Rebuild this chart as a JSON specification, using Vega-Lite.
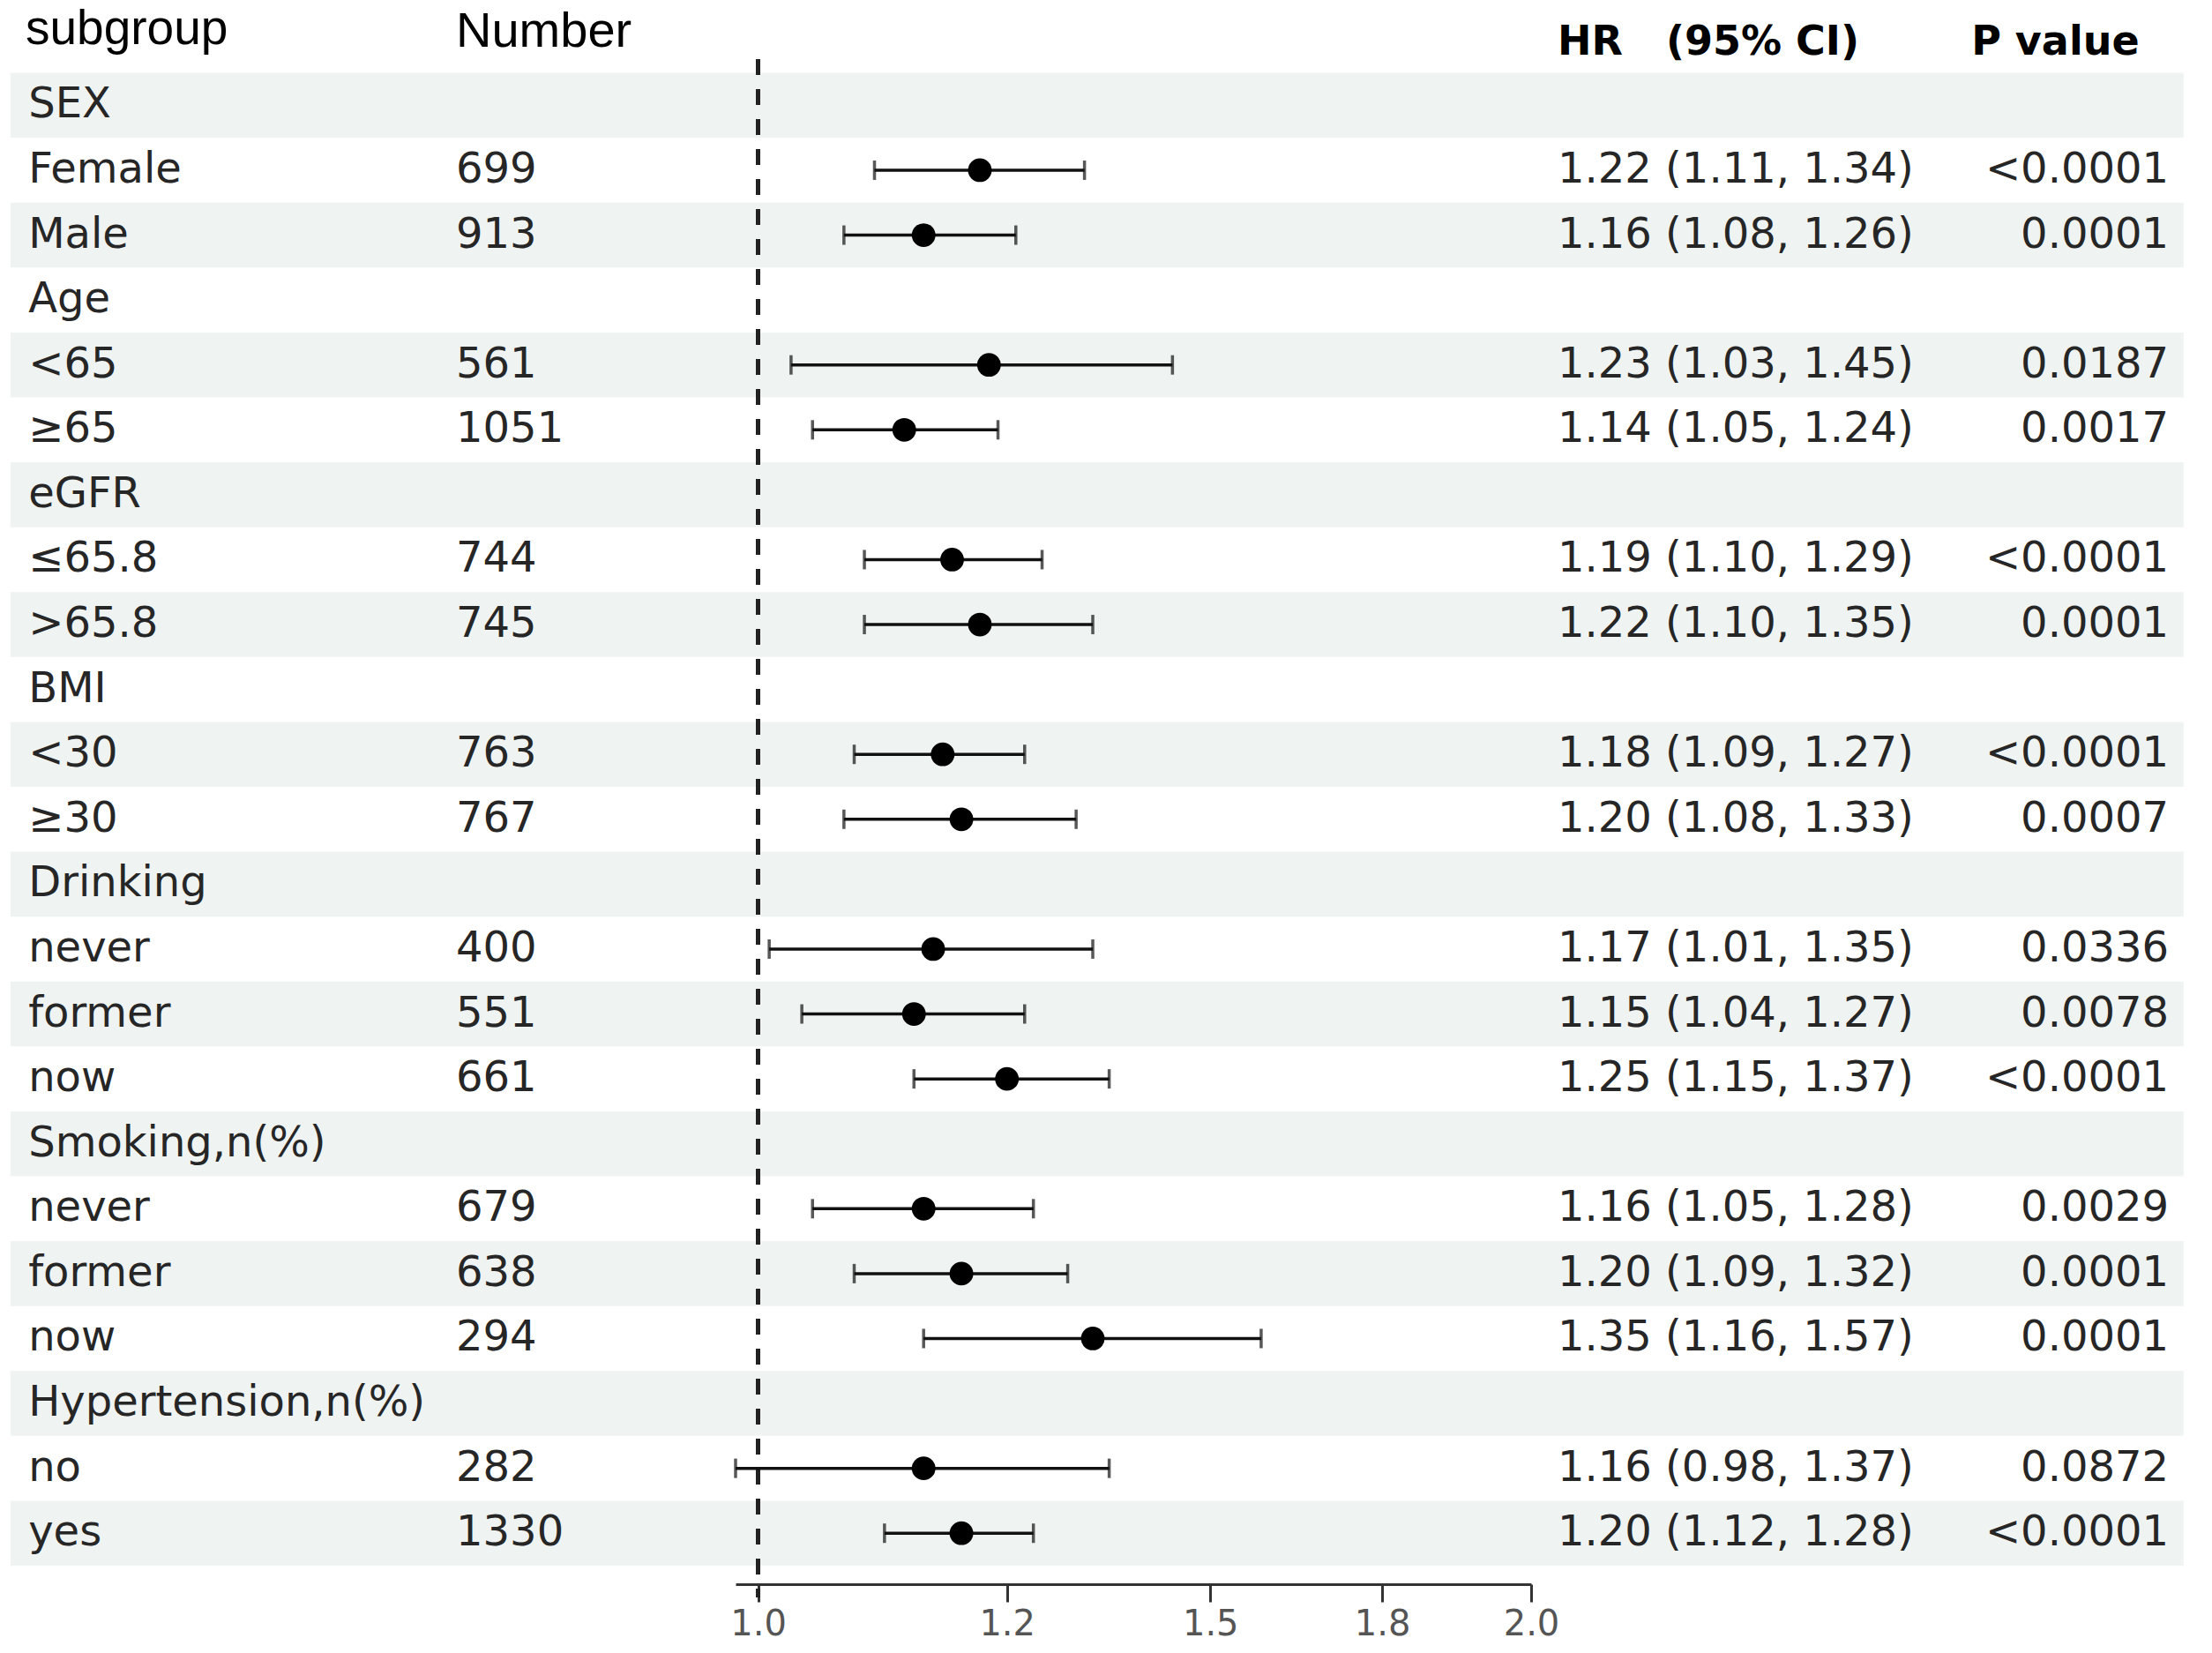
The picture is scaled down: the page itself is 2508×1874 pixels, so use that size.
{
  "$schema": "https://vega.github.io/schema/vega-lite/v6.json",
  "width": 2508,
  "height": 1766,
  "padding": {"left": 0, "top": 9, "right": 0, "bottom": 99},
  "autosize": {"type": "none"},
  "background": "white",
  "config": {"view": {"stroke": null}, "font": "DejaVu Sans"},
  "data": {
    "values": [
      {"row": 1, "label": "SEX"},
      {"row": 2, "label": "Female", "n": 699, "hr": 1.22, "lo": 1.11, "hi": 1.34, "ci": "1.22 (1.11, 1.34)", "p": "<0.0001"},
      {"row": 3, "label": "Male", "n": 913, "hr": 1.16, "lo": 1.08, "hi": 1.26, "ci": "1.16 (1.08, 1.26)", "p": "0.0001"},
      {"row": 4, "label": "Age"},
      {"row": 5, "label": "<65", "n": 561, "hr": 1.23, "lo": 1.03, "hi": 1.45, "ci": "1.23 (1.03, 1.45)", "p": "0.0187"},
      {"row": 6, "label": "≥65", "n": 1051, "hr": 1.14, "lo": 1.05, "hi": 1.24, "ci": "1.14 (1.05, 1.24)", "p": "0.0017"},
      {"row": 7, "label": "eGFR"},
      {"row": 8, "label": "≤65.8", "n": 744, "hr": 1.19, "lo": 1.10, "hi": 1.29, "ci": "1.19 (1.10, 1.29)", "p": "<0.0001"},
      {"row": 9, "label": ">65.8", "n": 745, "hr": 1.22, "lo": 1.10, "hi": 1.35, "ci": "1.22 (1.10, 1.35)", "p": "0.0001"},
      {"row": 10, "label": "BMI"},
      {"row": 11, "label": "<30", "n": 763, "hr": 1.18, "lo": 1.09, "hi": 1.27, "ci": "1.18 (1.09, 1.27)", "p": "<0.0001"},
      {"row": 12, "label": "≥30", "n": 767, "hr": 1.20, "lo": 1.08, "hi": 1.33, "ci": "1.20 (1.08, 1.33)", "p": "0.0007"},
      {"row": 13, "label": "Drinking"},
      {"row": 14, "label": "never", "n": 400, "hr": 1.17, "lo": 1.01, "hi": 1.35, "ci": "1.17 (1.01, 1.35)", "p": "0.0336"},
      {"row": 15, "label": "former", "n": 551, "hr": 1.15, "lo": 1.04, "hi": 1.27, "ci": "1.15 (1.04, 1.27)", "p": "0.0078"},
      {"row": 16, "label": "now", "n": 661, "hr": 1.25, "lo": 1.15, "hi": 1.37, "ci": "1.25 (1.15, 1.37)", "p": "<0.0001"},
      {"row": 17, "label": "Smoking,n(%)"},
      {"row": 18, "label": "never", "n": 679, "hr": 1.16, "lo": 1.05, "hi": 1.28, "ci": "1.16 (1.05, 1.28)", "p": "0.0029"},
      {"row": 19, "label": "former", "n": 638, "hr": 1.20, "lo": 1.09, "hi": 1.32, "ci": "1.20 (1.09, 1.32)", "p": "0.0001"},
      {"row": 20, "label": "now", "n": 294, "hr": 1.35, "lo": 1.16, "hi": 1.57, "ci": "1.35 (1.16, 1.57)", "p": "0.0001"},
      {"row": 21, "label": "Hypertension,n(%)"},
      {"row": 22, "label": "no", "n": 282, "hr": 1.16, "lo": 0.98, "hi": 1.37, "ci": "1.16 (0.98, 1.37)", "p": "0.0872"},
      {"row": 23, "label": "yes", "n": 1330, "hr": 1.20, "lo": 1.12, "hi": 1.28, "ci": "1.20 (1.12, 1.28)", "p": "<0.0001"}
    ]
  },
  "encoding": {
    "y": {
      "field": "row",
      "type": "ordinal",
      "scale": {"domain": [0,1,2,3,4,5,6,7,8,9,10,11,12,13,14,15,16,17,18,19,20,21,22,23], "paddingInner": 0, "paddingOuter": 0},
      "axis": null
    }
  },
  "layer": [
    {
      "transform": [{"filter": "datum.row % 2 == 1"}],
      "mark": {"type": "rect", "color": "#eff3f2"},
      "encoding": {
        "x": {
          "datum": 0.5115,
          "type": "quantitative",
          "title": null,
          "scale": {"type": "log", "domain": [0.98, 2], "range": [834, 1736], "nice": false, "zero": false},
          "axis": {
            "values": [1, 1.25, 1.5, 1.75, 2],
            "labelExpr": "datum.value == 1 ? '1.0' : datum.value == 1.25 ? '1.2' : datum.value == 1.5 ? '1.5' : datum.value == 1.75 ? '1.8' : '2.0'",
            "title": null,
            "grid": false,
            "offset": 21,
            "domainColor": "#333333",
            "domainWidth": 3,
            "tickColor": "#333333",
            "tickWidth": 3,
            "tickSize": 20,
            "labelFont": "DejaVu Sans",
            "labelFontSize": 40,
            "labelColor": "#555555",
            "labelPadding": 5,
            "labelFlush": false,
            "labelOverlap": false
          }
        },
        "x2": {"datum": 3.59}
      }
    },
    {
      "mark": {"type": "rule", "color": "#222222", "strokeWidth": 4, "strokeDash": [17, 17], "yOffset": -52, "y2Offset": 72},
      "encoding": {
        "x": {"datum": 1, "type": "quantitative", "title": null},
        "y": {"datum": 1, "type": "ordinal"},
        "y2": {"datum": 23}
      }
    },
    {
      "transform": [{"filter": "isValid(datum.hr)"}],
      "mark": {"type": "rule", "color": "#111111", "strokeWidth": 3.5},
      "encoding": {
        "x": {"field": "lo", "type": "quantitative", "title": null},
        "x2": {"field": "hi"}
      }
    },
    {
      "transform": [{"filter": "isValid(datum.hr)"}],
      "mark": {"type": "tick", "color": "#111111", "thickness": 3.5, "size": 22, "orient": "vertical"},
      "encoding": {
        "x": {"field": "lo", "type": "quantitative", "title": null}
      }
    },
    {
      "transform": [{"filter": "isValid(datum.hr)"}],
      "mark": {"type": "tick", "color": "#111111", "thickness": 3.5, "size": 22, "orient": "vertical"},
      "encoding": {
        "x": {"field": "hi", "type": "quantitative", "title": null}
      }
    },
    {
      "transform": [{"filter": "isValid(datum.hr)"}],
      "mark": {"type": "point", "shape": "circle", "filled": true, "color": "#000000", "opacity": 1, "size": 720},
      "encoding": {
        "x": {"field": "hr", "type": "quantitative", "title": null}
      }
    },
    {
      "mark": {"type": "text", "align": "left", "baseline": "middle", "font": "DejaVu Sans", "fontSize": 48, "color": "#262626"},
      "encoding": {
        "x": {"datum": 0.5198, "type": "quantitative", "title": null},
        "text": {"field": "label"}
      }
    },
    {
      "transform": [{"filter": "isValid(datum.n)"}],
      "mark": {"type": "text", "align": "left", "baseline": "middle", "font": "DejaVu Sans", "fontSize": 48, "color": "#262626"},
      "encoding": {
        "x": {"datum": 0.7627, "type": "quantitative", "title": null},
        "text": {"field": "n", "type": "quantitative", "format": "d"}
      }
    },
    {
      "transform": [{"filter": "isValid(datum.ci)"}],
      "mark": {"type": "text", "align": "left", "baseline": "middle", "font": "DejaVu Sans", "fontSize": 48, "color": "#262626"},
      "encoding": {
        "x": {"datum": 2.048, "type": "quantitative", "title": null},
        "text": {"field": "ci"}
      }
    },
    {
      "transform": [{"filter": "isValid(datum.p)"}],
      "mark": {"type": "text", "align": "right", "baseline": "middle", "font": "DejaVu Sans", "fontSize": 48, "color": "#262626"},
      "encoding": {
        "x": {"datum": 3.543, "type": "quantitative", "title": null},
        "text": {"field": "p"}
      }
    },
    {
      "data": {"values": [{"h": "subgroup"}]},
      "mark": {"type": "text", "align": "left", "baseline": "alphabetic", "font": "Liberation Sans", "fontSize": 55, "color": "#000000", "dy": 4},
      "encoding": {
        "x": {"datum": 0.5185, "type": "quantitative", "title": null},
        "y": {"datum": 0, "type": "ordinal"},
        "text": {"field": "h"}
      }
    },
    {
      "data": {"values": [{"h": "Number"}]},
      "mark": {"type": "text", "align": "left", "baseline": "alphabetic", "font": "Liberation Sans", "fontSize": 56, "color": "#000000", "dy": 7},
      "encoding": {
        "x": {"datum": 0.7627, "type": "quantitative", "title": null},
        "y": {"datum": 0, "type": "ordinal"},
        "text": {"field": "h"}
      }
    },
    {
      "data": {"values": [{"h": "HR"}]},
      "mark": {"type": "text", "align": "left", "baseline": "alphabetic", "font": "DejaVu Sans", "fontWeight": "bold", "fontSize": 46, "color": "#000000", "dy": 16},
      "encoding": {
        "x": {"datum": 2.048, "type": "quantitative", "title": null},
        "y": {"datum": 0, "type": "ordinal"},
        "text": {"field": "h"}
      }
    },
    {
      "data": {"values": [{"h": "(95% CI)"}]},
      "mark": {"type": "text", "align": "left", "baseline": "alphabetic", "font": "DejaVu Sans", "fontWeight": "bold", "fontSize": 46, "color": "#000000", "dy": 16},
      "encoding": {
        "x": {"datum": 2.2572, "type": "quantitative", "title": null},
        "y": {"datum": 0, "type": "ordinal"},
        "text": {"field": "h"}
      }
    },
    {
      "data": {"values": [{"h": "P value"}]},
      "mark": {"type": "text", "align": "left", "baseline": "alphabetic", "font": "DejaVu Sans", "fontWeight": "bold", "fontSize": 46, "color": "#000000", "dy": 16},
      "encoding": {
        "x": {"datum": 2.968, "type": "quantitative", "title": null},
        "y": {"datum": 0, "type": "ordinal"},
        "text": {"field": "h"}
      }
    }
  ]
}
